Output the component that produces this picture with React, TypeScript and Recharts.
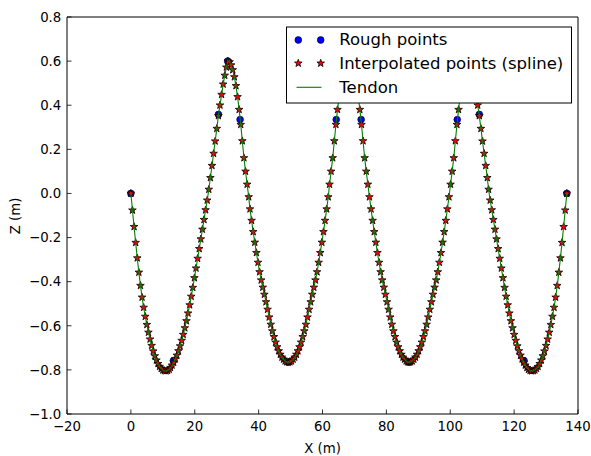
import React from "react";
import { ComposedChart, Scatter, XAxis, YAxis } from "recharts";

// axis ticks
const X_TICKS = [-20, 0, 20, 40, 60, 80, 100, 120, 140];
const Z_TICKS = [-1.0, -0.8, -0.6, -0.4, -0.2, 0.0, 0.2, 0.4, 0.6, 0.8];

// rough (control) points of the tendon profile
const roughX = [0, 13.33, 27.42, 30.3, 34.2, 49.3, 64.3, 68.2, 72.1, 87.1, 102.2, 106.2, 109.1, 123.1, 136.5];
const roughZ = [0, -0.758, 0.358, 0.6, 0.335, -0.765, 0.335, 0.6, 0.335, -0.765, 0.335, 0.6, 0.358, -0.758, 0];

// interpolated points (spline)
const starX = [
  0, 0.5, 1, 1.5, 2, 2.5, 3, 3.5, 4, 4.5,
  5, 5.5, 6, 6.5, 7, 7.5, 8, 8.5, 9, 9.5,
  10, 10.5, 11, 11.5, 12, 12.4, 12.9, 13.4, 13.9, 14.4,
  14.9, 15.4, 15.9, 16.4, 16.9, 17.4, 17.9, 18.4, 18.9, 19.4,
  19.9, 20.4, 20.9, 21.4, 21.9, 22.4, 22.9, 23.4, 23.9, 24.4,
  24.9, 25.4, 25.9, 26.4, 26.9, 27.4, 27.9, 28.4, 28.9, 29.4,
  29.9, 30.4, 30.9, 31.4, 31.9, 32.4, 32.9, 33.4, 33.9, 34.4,
  34.9, 35.4, 35.9, 36.4, 36.9, 37.3, 37.8, 38.3, 38.8, 39.3,
  39.8, 40.3, 40.8, 41.3, 41.8, 42.3, 42.8, 43.3, 43.8, 44.3,
  44.8, 45.3, 45.8, 46.3, 46.8, 47.3, 47.8, 48.3, 48.8, 49.3,
  49.8, 50.3, 50.8, 51.3, 51.8, 52.3, 52.8, 53.3, 53.8, 54.3,
  54.8, 55.3, 55.8, 56.3, 56.8, 57.3, 57.8, 58.3, 58.8, 59.3,
  59.8, 60.3, 60.8, 61.3, 61.8, 62.2, 62.7, 63.2, 63.7, 64.2,
  64.7, 65.2, 65.7, 66.2, 66.7, 67.2, 67.7, 68.2, 68.7, 69.2,
  69.7, 70.2, 70.7, 71.2, 71.7, 72.2, 72.7, 73.2, 73.7, 74.2,
  74.7, 75.2, 75.7, 76.2, 76.7, 77.2, 77.7, 78.2, 78.7, 79.2,
  79.7, 80.2, 80.7, 81.2, 81.7, 82.2, 82.7, 83.2, 83.7, 84.2,
  84.7, 85.2, 85.7, 86.2, 86.7, 87.1, 87.6, 88.1, 88.6, 89.1,
  89.6, 90.1, 90.6, 91.1, 91.6, 92.1, 92.6, 93.1, 93.6, 94.1,
  94.6, 95.1, 95.6, 96.1, 96.6, 97.1, 97.6, 98.1, 98.6, 99.1,
  99.6, 100.1, 100.6, 101.1, 101.6, 102.1, 102.6, 103.1, 103.6, 104.1,
  104.6, 105.1, 105.6, 106.1, 106.6, 107.1, 107.6, 108.1, 108.6, 109.1,
  109.6, 110.1, 110.6, 111.1, 111.6, 112, 112.5, 113, 113.5, 114,
  114.5, 115, 115.5, 116, 116.5, 117, 117.5, 118, 118.5, 119,
  119.5, 120, 120.5, 121, 121.5, 122, 122.5, 123, 123.5, 124,
  124.5, 125, 125.5, 126, 126.5, 127, 127.5, 128, 128.5, 129,
  129.5, 130, 130.5, 131, 131.5, 132, 132.5, 133, 133.5, 134,
  134.5, 135, 135.5, 136, 136.5,
];
const starZ = [
  0, -0.076, -0.151, -0.223, -0.293, -0.358, -0.418, -0.471, -0.517, -0.558,
  -0.595, -0.63, -0.661, -0.69, -0.715, -0.737, -0.756, -0.772, -0.785, -0.794,
  -0.801, -0.804, -0.805, -0.803, -0.798, -0.79, -0.779, -0.766, -0.751, -0.734,
  -0.714, -0.692, -0.667, -0.64, -0.61, -0.578, -0.543, -0.506, -0.467, -0.427,
  -0.383, -0.339, -0.295, -0.251, -0.207, -0.163, -0.119, -0.075, -0.031, 0.018,
  0.071, 0.126, 0.181, 0.237, 0.294, 0.352, 0.4, 0.448, 0.495, 0.535,
  0.572, 0.6, 0.596, 0.582, 0.56, 0.528, 0.488, 0.438, 0.38, 0.312,
  0.238, 0.161, 0.1, 0.041, -0.016, -0.071, -0.123, -0.174, -0.222, -0.269,
  -0.313, -0.356, -0.393, -0.426, -0.458, -0.492, -0.526, -0.561, -0.594, -0.624,
  -0.65, -0.675, -0.696, -0.714, -0.73, -0.743, -0.752, -0.76, -0.764, -0.765,
  -0.764, -0.76, -0.752, -0.743, -0.73, -0.714, -0.696, -0.675, -0.65, -0.624,
  -0.594, -0.561, -0.526, -0.492, -0.458, -0.426, -0.393, -0.356, -0.313, -0.269,
  -0.222, -0.174, -0.123, -0.071, -0.016, 0.041, 0.1, 0.161, 0.238, 0.312,
  0.38, 0.438, 0.488, 0.528, 0.56, 0.582, 0.596, 0.6, 0.596, 0.582,
  0.56, 0.528, 0.488, 0.438, 0.38, 0.312, 0.238, 0.161, 0.1, 0.041,
  -0.016, -0.071, -0.123, -0.174, -0.222, -0.269, -0.313, -0.356, -0.393, -0.426,
  -0.458, -0.492, -0.526, -0.561, -0.594, -0.624, -0.65, -0.675, -0.696, -0.714,
  -0.73, -0.743, -0.752, -0.76, -0.764, -0.765, -0.764, -0.76, -0.752, -0.743,
  -0.73, -0.714, -0.696, -0.675, -0.65, -0.624, -0.594, -0.561, -0.526, -0.492,
  -0.458, -0.426, -0.393, -0.356, -0.313, -0.269, -0.222, -0.174, -0.123, -0.071,
  -0.016, 0.041, 0.1, 0.161, 0.238, 0.312, 0.38, 0.438, 0.488, 0.528,
  0.56, 0.582, 0.596, 0.6, 0.572, 0.535, 0.495, 0.448, 0.4, 0.352,
  0.294, 0.237, 0.181, 0.126, 0.071, 0.018, -0.031, -0.075, -0.119, -0.163,
  -0.207, -0.251, -0.295, -0.339, -0.383, -0.427, -0.467, -0.506, -0.543, -0.578,
  -0.61, -0.64, -0.667, -0.692, -0.714, -0.734, -0.751, -0.766, -0.779, -0.79,
  -0.798, -0.803, -0.805, -0.804, -0.801, -0.794, -0.785, -0.772, -0.756, -0.737,
  -0.715, -0.69, -0.661, -0.63, -0.595, -0.558, -0.517, -0.471, -0.418, -0.358,
  -0.293, -0.223, -0.151, -0.076, 0,
];

const roughPoints = roughX.map((x, i) => ({ x, z: roughZ[i] }));
const splinePoints = starX.map((x, i) => ({ x, z: starZ[i] }));

const FONT = "'DejaVu Sans', sans-serif";
const TICK_LEN = 4.5;
const BLUE = "#0000ff";
const RED = "#ff0000";
const GREEN = "#008000";

const fmt = (v: number, digits: number) => v.toFixed(digits).replace("-", "\u2212");

function starPoints(cx: number, cy: number, ro: number, ri: number) {
  const pts: string[] = [];
  for (let k = 0; k < 10; k++) {
    const r = k % 2 === 0 ? ro : ri;
    const a = -Math.PI / 2 + (k * Math.PI) / 5;
    pts.push(`${(cx + r * Math.cos(a)).toFixed(2)},${(cy + r * Math.sin(a)).toFixed(2)}`);
  }
  return pts.join(" ");
}

const RoughDot = (props: any) => (
  <circle cx={props.cx} cy={props.cy} r={3.4} fill={BLUE} stroke="#000" strokeWidth={0.6} />
);

const StarDot = (props: any) => (
  <polygon points={starPoints(props.cx, props.cy, 4, 1.6)} fill={RED} stroke="#000" strokeWidth={0.8} />
);

const NoDot = () => <g />;

const BottomTick = ({ x, y, payload }: any) => (
  <g>
    <line x1={x} y1={y} x2={x} y2={y - TICK_LEN} stroke="#000" strokeWidth={0.8} />
    <text x={x} y={y + 16.5} textAnchor="middle" fontSize={13.3} fontFamily={FONT} fill="#000">
      {fmt(payload.value, 0)}
    </text>
  </g>
);

const TopTick = ({ x, y }: any) => (
  <line x1={x} y1={y} x2={x} y2={y + TICK_LEN} stroke="#000" strokeWidth={0.8} />
);

const LeftTick = ({ x, y, payload }: any) => (
  <g>
    <line x1={x} y1={y} x2={x + TICK_LEN} y2={y} stroke="#000" strokeWidth={0.8} />
    <text x={x - 5.7} y={y + 4.8} textAnchor="end" fontSize={13.3} fontFamily={FONT} fill="#000">
      {fmt(payload.value, 1)}
    </text>
  </g>
);

const RightTick = ({ x, y }: any) => (
  <line x1={x} y1={y} x2={x - TICK_LEN} y2={y} stroke="#000" strokeWidth={0.8} />
);

function LegendBox() {
  const rows = [
    { label: "Rough points", cy: 14, textY: 19.3 },
    { label: "Interpolated points (spline)", cy: 37.3, textY: 43.2 },
    { label: "Tendon", cy: 61.3, textY: 67 },
  ];
  return (
    <svg
      width={288}
      height={79}
      style={{ position: "absolute", left: 285, top: 26 }}
    >
      <rect x={1.5} y={1} width={285} height={76} fill="#fff" stroke="#000" strokeWidth={1} />
      <circle cx={13.3} cy={rows[0].cy} r={3.4} fill={BLUE} stroke="#000" strokeWidth={0.6} />
      <circle cx={35.7} cy={rows[0].cy} r={3.4} fill={BLUE} stroke="#000" strokeWidth={0.6} />
      <polygon points={starPoints(13.3, rows[1].cy, 4, 1.6)} fill={RED} stroke="#000" strokeWidth={0.8} />
      <polygon points={starPoints(35.7, rows[1].cy, 4, 1.6)} fill={RED} stroke="#000" strokeWidth={0.8} />
      <line x1={11.5} y1={rows[2].cy} x2={36.5} y2={rows[2].cy} stroke={GREEN} strokeWidth={1.1} />
      {rows.map((r) => (
        <text key={r.label} x={54.3} y={r.textY} fontSize={16.5} fontFamily={FONT} fill="#000">
          {r.label}
        </text>
      ))}
    </svg>
  );
}

export default function App() {
  return (
    <div style={{ position: "absolute", left: 0, top: 0, width: 591, height: 456, background: "#fff" }}>
      <ComposedChart width={591} height={456} margin={{ top: 16, right: 12, bottom: 0, left: 0 }}>
        <XAxis
          dataKey="x"
          type="number"
          domain={[-20, 140]}
          ticks={X_TICKS}
          height={42}
          tickSize={0}
          tickMargin={0}
          tickLine={false}
          tick={BottomTick}
          axisLine={{ stroke: "#000", strokeWidth: 1 }}
          interval={0}
          label={{ value: "X (m)", position: "insideBottom", offset: 3, fontSize: 13.3, fontFamily: FONT, fill: "#000" }}
        />
        <XAxis
          xAxisId="top"
          orientation="top"
          dataKey="x"
          type="number"
          domain={[-20, 140]}
          ticks={X_TICKS}
          height={1}
          tickSize={0}
          tickMargin={0}
          tickLine={false}
          tick={TopTick}
          axisLine={{ stroke: "#000", strokeWidth: 1 }}
          interval={0}
        />
        <YAxis
          dataKey="z"
          type="number"
          domain={[-1, 0.8]}
          ticks={Z_TICKS}
          width={67}
          tickSize={0}
          tickMargin={0}
          tickLine={false}
          tick={LeftTick}
          axisLine={{ stroke: "#000", strokeWidth: 1 }}
          interval={0}
        />
        <YAxis
          yAxisId="right"
          orientation="right"
          dataKey="z"
          type="number"
          domain={[-1, 0.8]}
          ticks={Z_TICKS}
          width={1}
          tickSize={0}
          tickMargin={0}
          tickLine={false}
          tick={RightTick}
          axisLine={{ stroke: "#000", strokeWidth: 1 }}
          interval={0}
        />
        <Scatter name="Rough points" data={roughPoints} shape={RoughDot} isAnimationActive={false} />
        <Scatter name="Interpolated points (spline)" data={splinePoints} shape={StarDot} isAnimationActive={false} />
        <Scatter
          name="Tendon"
          data={splinePoints}
          shape={NoDot}
          line={{ stroke: GREEN, strokeWidth: 1.1 }}
          lineType="joint"
          isAnimationActive={false}
        />
      </ComposedChart>
      <svg width={30} height={456} style={{ position: "absolute", left: 0, top: 0 }}>
        <text
          transform="translate(19.5, 216) rotate(-90)"
          textAnchor="middle"
          fontSize={13.3}
          fontFamily={FONT}
          fill="#000"
        >
          Z (m)
        </text>
      </svg>
      <LegendBox />
    </div>
  );
}
